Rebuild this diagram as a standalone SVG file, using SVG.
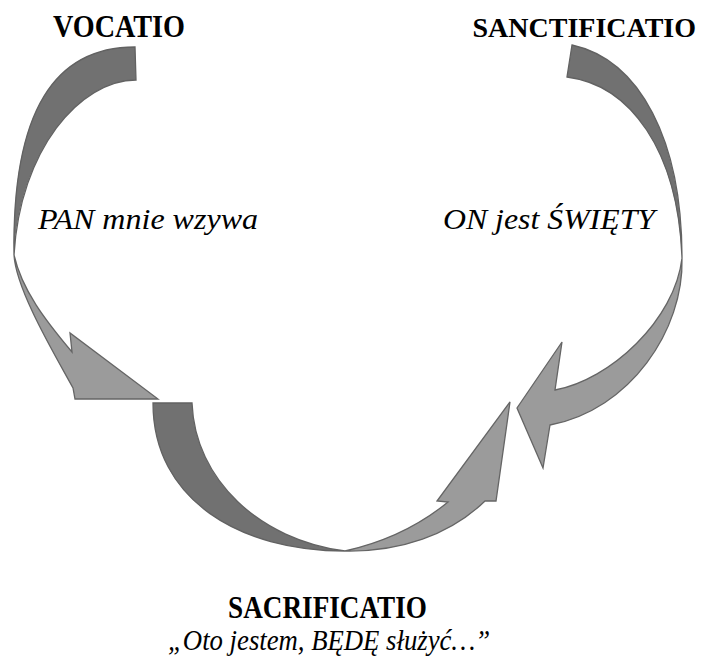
<svg xmlns="http://www.w3.org/2000/svg" width="702" height="663" viewBox="0 0 702 663">
<style>
.dark{fill:#717171;stroke:#626262;stroke-width:1.3;stroke-linejoin:miter}
.light{fill:#9b9b9b;stroke:#656565;stroke-width:1.3;stroke-linejoin:miter}
.title{font-family:"Liberation Serif","Times New Roman",serif;font-weight:bold;font-size:31px;fill:#000}
.label{font-family:"Liberation Serif","Times New Roman",serif;font-style:italic;font-size:30px;fill:#000}
</style>
<rect width="702" height="663" fill="#fff"/>
<g id="connectors">
  <g id="arrow-vocatio">
    <path class="light" d="M14,255 C16,290 55,355 73,388 L75,399 L158,399 L70,333 L72,352 C45,320 22,290 14,255 Z"/>
    <path class="dark" d="M135,47 L136,80 C80,80 20,150 14,255 C12,110 55,47 135,47 Z"/>
  </g>
  <g id="arrow-sanctificatio">
    <path class="light" d="M682,258 C684,330 630,410 550,425 L543,468 L517,408 L562,342 L555,390 C610,380 675,320 682,258 Z"/>
    <path class="dark" d="M572,45 L567,77 C630,85 678,150 682,258 C682,140 640,60 572,45 Z"/>
  </g>
  <g id="arrow-sacrificatio">
    <path class="light" d="M345,551 C400,552 450,535 485,501 L496,501 L510,402 L437,501 L448,502 C420,525 385,542 345,551 Z"/>
    <path class="dark" d="M153,403 L192,403 C195,480 260,540 345,551 C240,551 153,500 153,403 Z"/>
  </g>
</g>
<g id="node-vocatio">
  <text class="title" x="53" y="37" textLength="132" lengthAdjust="spacingAndGlyphs">VOCATIO</text>
  <text class="label" x="38" y="229" textLength="220" lengthAdjust="spacingAndGlyphs">PAN mnie wzywa</text>
</g>
<g id="node-sanctificatio">
  <text class="title" x="696" y="37" text-anchor="end" style="font-size:28px">SANCTIFICATIO</text>
  <text class="label" x="443" y="229" textLength="212" lengthAdjust="spacingAndGlyphs">ON jest ŚWIĘTY</text>
</g>
<g id="node-sacrificatio">
  <text class="title" x="228" y="618" textLength="199" lengthAdjust="spacingAndGlyphs">SACRIFICATIO</text>
  <text class="label" x="168" y="650" textLength="322" lengthAdjust="spacingAndGlyphs">„Oto jestem, BĘDĘ służyć…”</text>
</g>
</svg>
